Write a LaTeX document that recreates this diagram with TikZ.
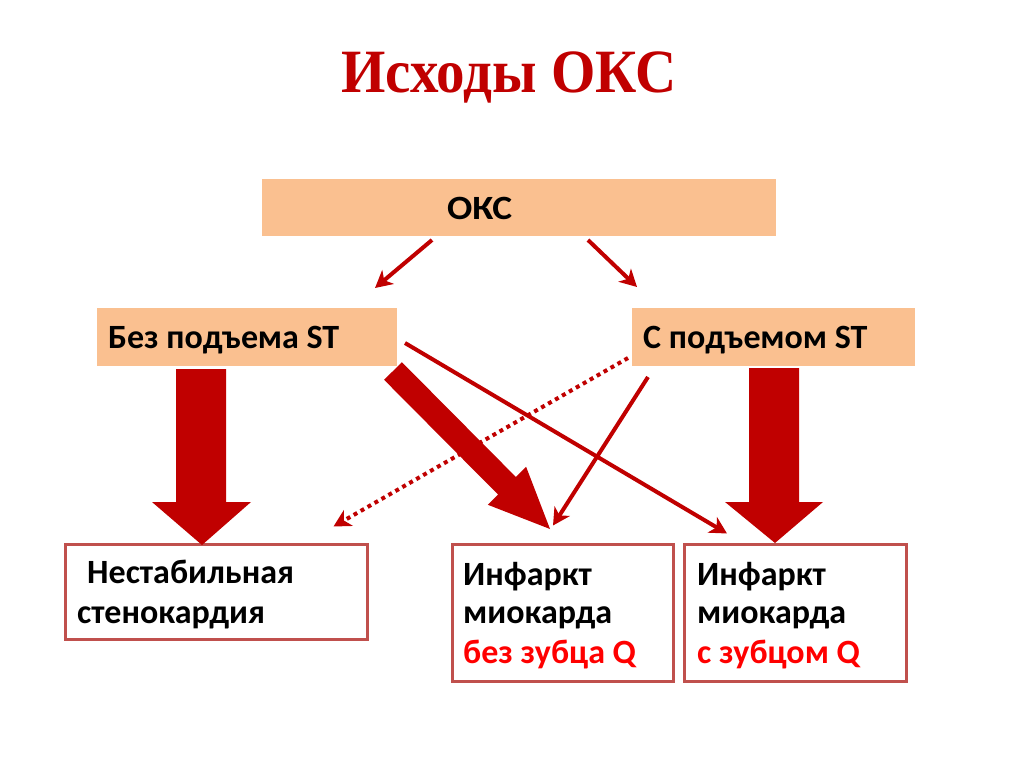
\documentclass[tikz,border=0pt]{standalone}
\usepackage{fontspec}
\setmainfont{Carlito}
\newfontfamily\titlefont{Liberation Serif}
\usetikzlibrary{arrows.meta,calc}
\definecolor{dred}{HTML}{C00000}
\definecolor{peach}{HTML}{FAC090}
\definecolor{bord}{HTML}{C0504D}
\definecolor{bright}{HTML}{FF0000}
\begin{document}
\begin{tikzpicture}[x=1pt,y=-1pt,
  peachbox/.style={fill=peach, draw=none, inner sep=0pt, outer sep=0pt},
  whitebox/.style={fill=white, draw=bord, line width=3pt, inner sep=0pt},
  txt/.style={font=\bfseries\fontsize{34}{40}\selectfont, inner sep=0pt, anchor=base west},
  redtxt/.style={txt, text=bright},
  thinarrow/.style={draw=dred, line width=4pt, -{Stealth[length=17pt,width=18pt,inset=5pt]}},
  dotarrow/.style={thinarrow, dash pattern=on 4pt off 4pt},
  block/.style={fill=dred, draw=none}]
\useasboundingbox (0,0) rectangle (1024,767);

% title
\node[font=\titlefont\bfseries\fontsize{57}{68}\selectfont, text=dred, anchor=base, inner sep=0pt] (title) at (509,93) {\scalebox{1}[1.08]{Исходы ОКС}};

% boxes
\node[peachbox, minimum width=514pt, minimum height=57pt] (oks) at (519,207.5) {};
\node[peachbox, minimum width=300pt, minimum height=58pt] (bez) at (247,337) {};
\node[peachbox, minimum width=283pt, minimum height=58pt] (spod) at (773.5,337) {};
\node[whitebox, minimum width=302pt, minimum height=95pt] (nest) at (216,591.5) {};
\node[whitebox, minimum width=221pt, minimum height=137pt] (imb) at (562.5,612.5) {};
\node[whitebox, minimum width=222pt, minimum height=137pt] (imq) at (795.5,612.5) {};

% block arrows
\fill[block] (176,369) -- (226,369) -- (226,502) -- (251,502) -- (202,545) -- (152,502) -- (176,502) -- cycle;
\fill[block] (749,368) -- (799,368) -- (799,502) -- (823,502) -- (775,543) -- (725,502) -- (749,502) -- cycle;
\fill[block] (384.1,379.8) -- (401.9,362.2) -- (515.9,477) -- (526.1,466.8) -- (550,529) -- (487.9,504.8) -- (498.1,494.6) -- cycle;

% thin connectors
\draw[thinarrow] ($(oks.south)+(-87,4)$) -- ($(bez.north east)+(-22,-20)$);
\draw[thinarrow] ($(oks.south)+(69,4)$) -- ($(spod.north west)+(5,-21)$);
\draw[thinarrow] ($(bez.east)+(8,6)$) -- ($(imq.north west)+(44,-9)$);
\draw[thinarrow] ($(spod.south west)+(16,11)$) -- ($(imb.north)+(-9.5,-17)$);
\draw[dotarrow] ($(spod.west)+(-4,21)$) -- ($(nest.north east)+(-35,-16)$);

% texts
\node[txt] (t0) at (447,220) {\scalebox{1.1}[1]{ОКС}};
\node[txt] (t1) at (108,348) {Без подъема ST};
\node[txt] (t2) at (643,348) {С подъемом ST};
\node[txt] (t3a) at (87,583) {Нестабильная};
\node[txt] (t3b) at (77,623) {стенокардия};
\node[txt] (t4a) at (463,585) {Инфаркт};
\node[txt] (t4b) at (463,623) {миокарда};
\node[redtxt] (t4c) at (463,663) {без зубца Q};
\node[txt] (t5a) at (697,585) {Инфаркт};
\node[txt] (t5b) at (697,623) {миокарда};
\node[redtxt] (t5c) at (697,663) {с зубцом Q};
\end{tikzpicture}
\end{document}
